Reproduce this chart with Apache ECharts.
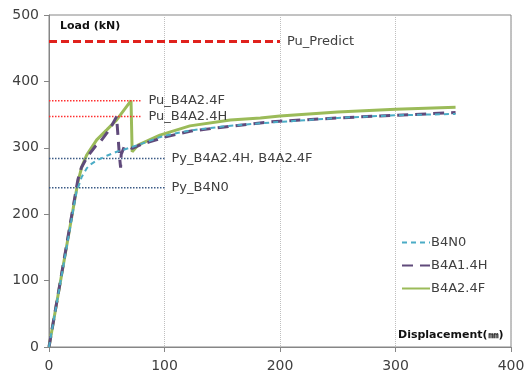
<!DOCTYPE html>
<html>
<head>
<meta charset="utf-8">
<script src="https://cdn.jsdelivr.net/npm/echarts@6/dist/echarts.min.js"></script>
<style>
  html, body { margin: 0; padding: 0; background: #fff; }
  #chart { width: 532px; height: 380px; }
</style>
</head>
<body>
<div id="chart"></div>
<script>
// load-displacement curves [displacement mm, load kN]
const b4n0 = [[0,0],[24,236],[26,244],[28.3,256],[32.6,269],[36,275],[41.3,281],[50,288],[58.6,294],[70,300],[81.6,307],[96,316],[105,320],[122,326],[150,332],[183,337],[200,339],[250,345],[300,349],[352,351]];
const b4a14h = [[0,0],[25,252],[28,270],[33,286],[40,302],[44,308],[50,322],[53,329],[58.5,347],[61,288],[62,270],[62.5,290],[65,301],[70,301],[72,299],[80,305],[87,309],[100,316],[122,325],[150,331],[191,339],[200,340],[250,345],[300,349],[352,353]];
const b4a24f = [[0,0],[22.5,224],[25.4,251],[28.3,271],[32.6,289],[41.3,312],[50,327],[58.6,342],[71,371],[72,294],[77,304],[87,312],[96,319],[122,333],[157,342],[183,345],[200,348],[250,354],[300,358],[352,361]];

// reference levels
const puPredict = [[0,460],[200,460]];
const puB4A24F = [[0,371],[80,371]];
const puB4A24H = [[0,347],[80,347]];
const pyB4A24 = [[0,284],[100,284]];
const pyB4N0 = [[0,240],[100,240]];

const xTicks = [0, 100, 200, 300, 400];
const yTicks = [0, 100, 200, 300, 400, 500];

const FONT = 'DejaVu Sans';
const TXT = '#404040';

const chart = echarts.init(document.getElementById('chart'), null, { renderer: 'canvas' });

function refLine(name, data, color, type, width) {
  return {
    name: name,
    type: 'line',
    data: data,
    symbol: 'none',
    silent: true,
    itemStyle: { color: color },
    lineStyle: { color: color, type: type, width: width },
    endLabel: {
      show: true,
      formatter: name,
      distance: 7,
      color: TXT,
      fontFamily: FONT,
      fontSize: 13
    }
  };
}

chart.setOption({
  animation: false,
  backgroundColor: '#fff',
  grid: { left: 49, right: 21, top: 15, bottom: 33, show: true, borderColor: '#868686', borderWidth: 1, backgroundColor: 'transparent' },
  xAxis: {
    type: 'value',
    min: xTicks[0],
    max: xTicks[xTicks.length - 1],
    interval: 100,
    axisLine: { lineStyle: { color: '#868686' } },
    axisTick: { show: true, length: 5, lineStyle: { color: '#868686' } },
    axisLabel: { color: TXT, fontFamily: FONT, fontSize: 14, margin: 12 },
    splitLine: { show: true, lineStyle: { color: '#bfbfbf', type: 'dotted' } }
  },
  yAxis: {
    type: 'value',
    min: yTicks[0],
    max: yTicks[yTicks.length - 1],
    interval: 100,
    axisLine: { show: true, lineStyle: { color: '#868686' } },
    axisTick: { show: true, length: 5, lineStyle: { color: '#868686' } },
    axisLabel: { color: TXT, fontFamily: FONT, fontSize: 14, margin: 10 },
    splitLine: { show: false }
  },
  legend: {
    data: ['B4N0', 'B4A1.4H', 'B4A2.4F'],
    orient: 'vertical',
    left: 396,
    top: 231,
    itemWidth: 28,
    itemHeight: 10,
    itemGap: 10,
    itemStyle: { opacity: 0 },
    textStyle: { color: TXT, fontFamily: FONT, fontSize: 13, padding: [0, 0, 0, -4] }
  },
  graphic: [
    { type: 'text', left: 60, top: 21, style: { text: 'Load (kN)', font: 'bold 11px "DejaVu Sans"', fill: '#111' } },
    { type: 'text', left: 398, top: 330, style: { text: 'Displacement(㎜)', font: 'bold 11px "DejaVu Sans"', fill: '#111' } }
  ],
  series: [
    refLine('Pu_Predict', puPredict, '#e0211d', [8, 4], 3),
    refLine('Pu_B4A2.4F', puB4A24F, '#ff3030', [1.5, 1.5], 1.5),
    refLine('Pu_B4A2.4H', puB4A24H, '#ff3030', [1.5, 1.5], 1.5),
    refLine('Py_B4A2.4H, B4A2.4F', pyB4A24, '#3b5a85', [1.5, 1.5], 1.5),
    refLine('Py_B4N0', pyB4N0, '#3b5a85', [1.5, 1.5], 1.5),
    {
      name: 'B4N0', type: 'line', data: b4n0, symbol: 'none', z: 4,
      itemStyle: { color: '#4bacc6' },
      lineStyle: { color: '#4bacc6', width: 2, type: [5, 4] }
    },
    {
      name: 'B4A1.4H', type: 'line', data: b4a14h, symbol: 'none', z: 3,
      itemStyle: { color: '#604a7b' },
      lineStyle: { color: '#604a7b', width: 3, type: [11, 7] }
    },
    {
      name: 'B4A2.4F', type: 'line', data: b4a24f, symbol: 'none', z: 2,
      itemStyle: { color: '#9bbb59' },
      lineStyle: { color: '#9bbb59', width: 3 }
    }
  ]
});
</script>
</body>
</html>
